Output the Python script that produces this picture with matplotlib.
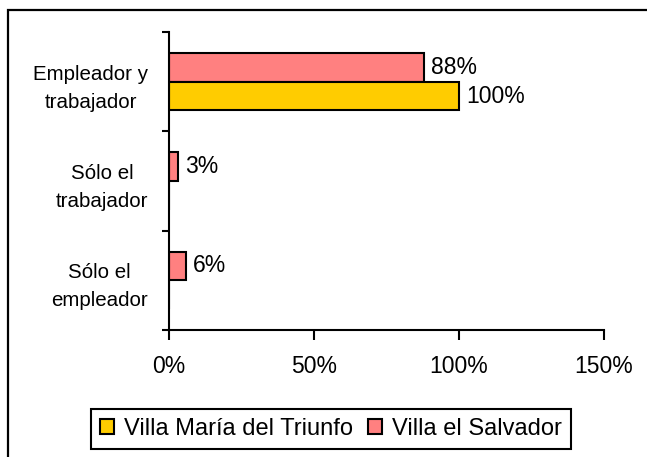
import matplotlib
matplotlib.use("Agg")
import matplotlib.pyplot as plt
import numpy as np
from matplotlib.lines import Line2D
from matplotlib.ticker import FixedLocator, PercentFormatter

# Data (percent of respondents).
categories = ["Empleador y\ntrabajador", "Sólo el\ntrabajador", "Sólo el\nempleador"]
series_names = ["Villa María del Triunfo", "Villa el Salvador"]
vmt_values = [100, 0, 0]
ves_values = [88, 3, 6]
x_ticks = [0, 50, 100, 150]

YELLOW = "#FFCC00"
PINK = "#FF8080"

plt.rcParams["font.family"] = ["Liberation Sans", "DejaVu Sans"]

W, H = 647, 457
fig = plt.figure(figsize=(W / 100, H / 100), dpi=100)

# Outer chart-area border: only the left and top edges fall inside the picture.
bx, by = 8 / W, 1 - 10 / H
fig.add_artist(Line2D([bx, bx, 1.1], [-0.1, by, by], transform=fig.transFigure,
                      color="black", linewidth=1.6, solid_joinstyle="miter"))

ax = fig.add_axes([169 / W, 1 - 330 / H, 435 / W, 298 / H])

bar_h = 0.29
y = np.arange(len(categories))
ves_bars = ax.barh(y - bar_h / 2, ves_values, height=bar_h, color=PINK,
                   edgecolor="black", linewidth=1.5, label=series_names[1])
vmt_bars = ax.barh(y + bar_h / 2, vmt_values, height=bar_h, color=YELLOW,
                   edgecolor="black", linewidth=1.5, label=series_names[0])

for bars, vals in ((ves_bars, ves_values), (vmt_bars, vmt_values)):
    for bar, v in zip(bars, vals):
        if v:
            ax.annotate(f"{v}%", (v, bar.get_y() + bar.get_height() / 2),
                        xytext=(5, 0), textcoords="offset points",
                        ha="left", va="center", fontsize=16.5)

ax.set_xlim(0, 150)
ax.set_ylim(len(categories) - 0.5, -0.5)

ax.xaxis.set_major_locator(FixedLocator(x_ticks))
ax.xaxis.set_major_formatter(PercentFormatter(decimals=0))
ax.tick_params(axis="x", length=7, width=1.5, pad=11, labelsize=16.5, direction="out")

ax.set_yticks(y)
ax.set_yticklabels(categories, fontsize=14.8, multialignment="center", linespacing=1.6)
ax.set_yticks(np.arange(len(categories) + 1) - 0.5, minor=True)
ax.tick_params(axis="y", which="major", length=0, pad=15)
ax.tick_params(axis="y", which="minor", length=5, width=1.5, direction="out")

for side in ("top", "right"):
    ax.spines[side].set_visible(False)
for side in ("left", "bottom"):
    ax.spines[side].set_linewidth(1.5)

handles = [vmt_bars, ves_bars]
leg = fig.legend(handles, series_names, loc="center", bbox_to_anchor=(331 / W, 28 / H),
                 ncol=2, fontsize=17, frameon=True, fancybox=False, framealpha=1,
                 edgecolor="black", handlelength=0.6, handleheight=0.6,
                 handletextpad=0.45, columnspacing=0.6, borderpad=0.38, borderaxespad=0)
leg.get_frame().set_linewidth(1.5)

fig.savefig("out.png", dpi=100)
